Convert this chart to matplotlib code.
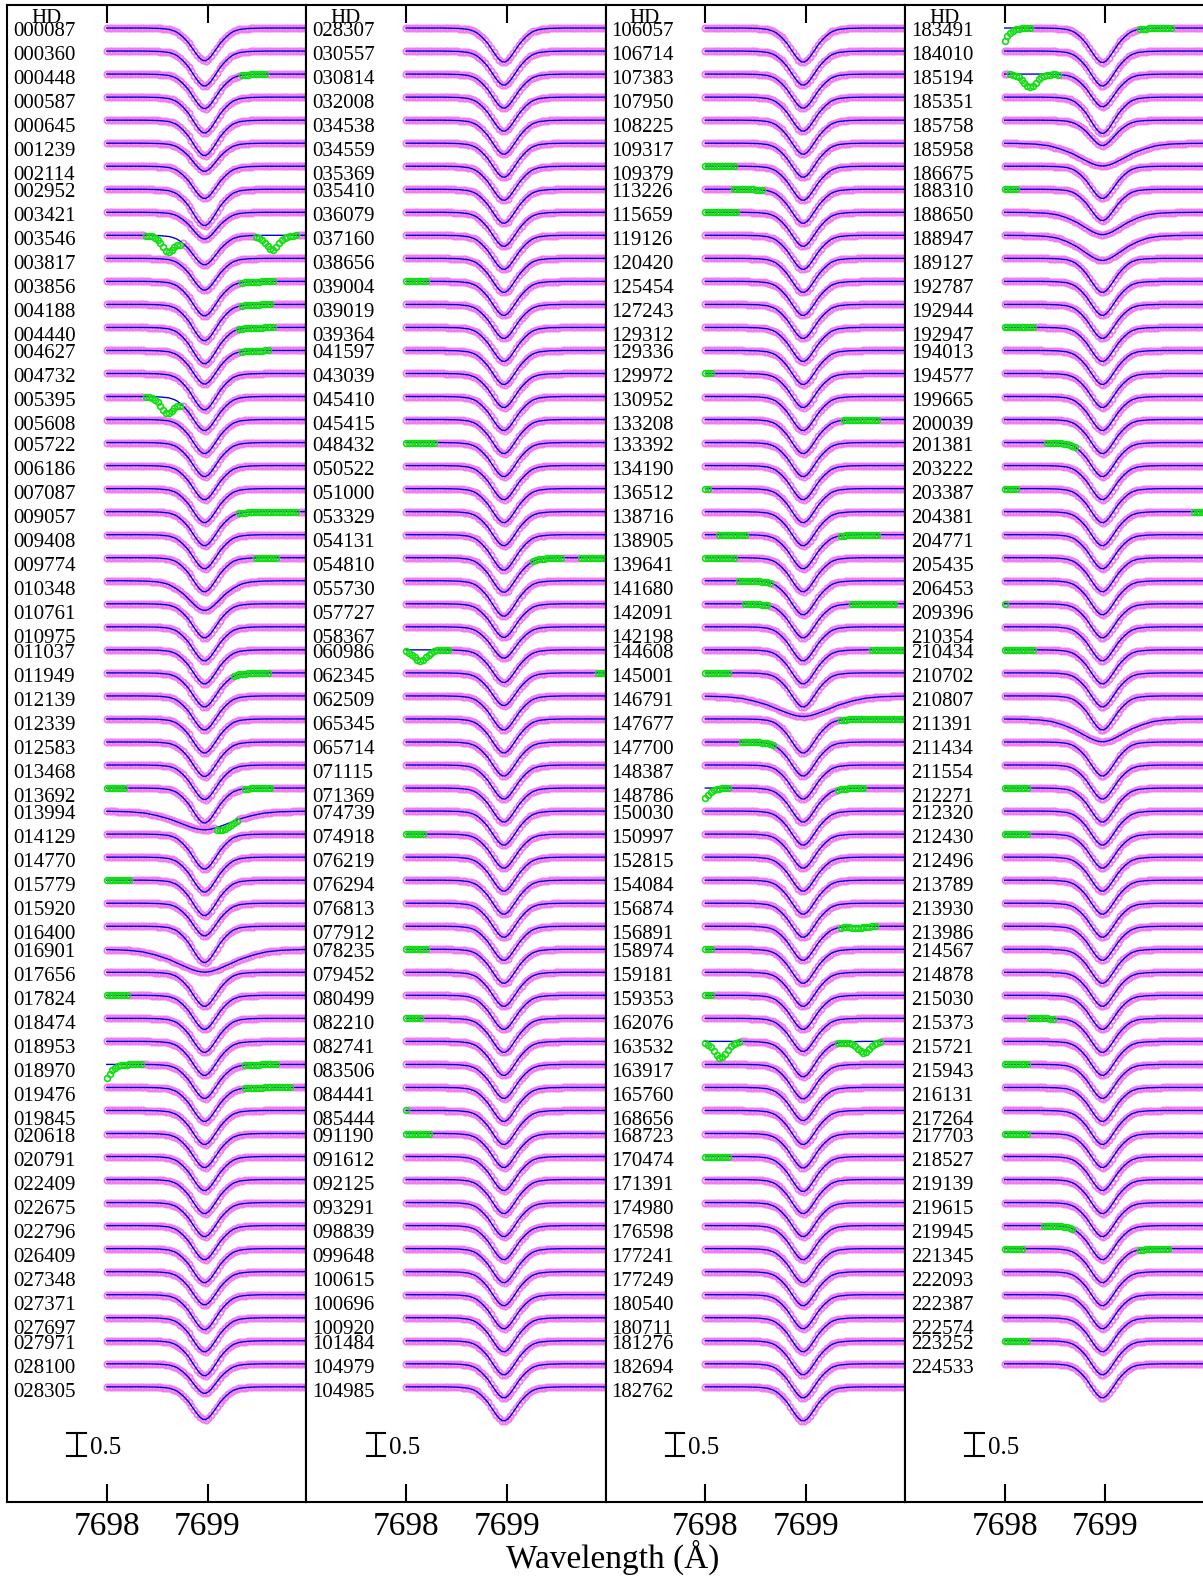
import numpy as np
import matplotlib.pyplot as plt

plt.rcParams['font.family'] = ['Liberation Serif', 'DejaVu Serif']

# K I 7699 absorption shape: fraction of the central depth vs. offset from line centre (A)
prof_dlam = [-0.60, -0.45, -0.35, -0.28, -0.22, -0.16, -0.11, -0.06, -0.03, 0.0,
             0.03, 0.06, 0.11, 0.16, 0.22, 0.28, 0.35, 0.45, 0.60]
prof_frac = [0.0, 0.01, 0.04, 0.11, 0.25, 0.44, 0.66, 0.87, 0.96, 1.0,
             0.96, 0.87, 0.66, 0.44, 0.25, 0.11, 0.04, 0.01, 0.0]
line_centre = 7698.97

stars_1 = ['000087', '000360', '000448', '000587', '000645', '001239', '002114', '002952',
           '003421', '003546', '003817', '003856', '004188', '004440', '004627', '004732',
           '005395', '005608', '005722', '006186', '007087', '009057', '009408', '009774',
           '010348', '010761', '010975', '011037', '011949', '012139', '012339', '012583',
           '013468', '013692', '013994', '014129', '014770', '015779', '015920', '016400',
           '016901', '017656', '017824', '018474', '018953', '018970', '019476', '019845',
           '020618', '020791', '022409', '022675', '022796', '026409', '027348', '027371',
           '027697', '027971', '028100', '028305']
depth_1 = [0.72, 0.77, 0.76, 0.79, 0.78, 0.62, 0.71, 0.80, 0.59, 0.65, 0.70, 0.76, 0.80, 0.80, 0.74, 0.80,
           0.75, 0.75, 0.75, 0.75, 0.75, 0.75, 0.75, 0.75, 0.65, 0.75, 0.75, 0.75, 0.75, 0.75, 0.75, 0.76,
           0.76, 0.77, 0.41, 0.77, 0.77, 0.78, 0.72, 0.80, 0.50, 0.75, 0.75, 0.75, 0.75, 0.75, 0.75, 0.75,
           0.75, 0.75, 0.75, 0.75, 0.75, 0.75, 0.73, 0.77, 0.75, 0.77, 0.65, 0.72]
width_1 = [1.0] * 24 + [1.3] + [1.0] * 9 + [2.1] + [1.0] * 5 + [2.2] + [1.0] * 19

stars_2 = ['028307', '030557', '030814', '032008', '034538', '034559', '035369', '035410',
           '036079', '037160', '038656', '039004', '039019', '039364', '041597', '043039',
           '045410', '045415', '048432', '050522', '051000', '053329', '054131', '054810',
           '055730', '057727', '058367', '060986', '062345', '062509', '065345', '065714',
           '071115', '071369', '074739', '074918', '076219', '076294', '076813', '077912',
           '078235', '079452', '080499', '082210', '082741', '083506', '084441', '085444',
           '091190', '091612', '092125', '093291', '098839', '099648', '100615', '100696',
           '100920', '101484', '104979', '104985']
depth_2 = [0.75] * 21 + [0.75, 0.78, 0.76, 0.78, 0.74, 0.69, 0.72, 0.72] + [0.75] * 31
width_2 = [1.0] * 60

stars_3 = ['106057', '106714', '107383', '107950', '108225', '109317', '109379', '113226',
           '115659', '119126', '120420', '125454', '127243', '129312', '129336', '129972',
           '130952', '133208', '133392', '134190', '136512', '138716', '138905', '139641',
           '141680', '142091', '142198', '144608', '145001', '146791', '147677', '147700',
           '148387', '148786', '150030', '150997', '152815', '154084', '156874', '156891',
           '158974', '159181', '159353', '162076', '163532', '163917', '165760', '168656',
           '168723', '170474', '171391', '174980', '176598', '177241', '177249', '180540',
           '180711', '181276', '182694', '182762']
depth_3 = [0.75] * 29 + [0.45] + [0.75] * 12 + [0.75, 0.73, 0.78, 0.76, 0.73, 0.75, 0.76, 0.77] + [0.75] * 10
width_3 = [1.0] * 29 + [2.2] + [1.0] * 30

stars_4 = ['183491', '184010', '185194', '185351', '185758', '185958', '186675', '188310',
           '188650', '188947', '189127', '192787', '192944', '192947', '194013', '194577',
           '199665', '200039', '201381', '203222', '203387', '204381', '204771', '205435',
           '206453', '209396', '210354', '210434', '210702', '210807', '211391', '211434',
           '211554', '212271', '212320', '212430', '212496', '213789', '213930', '213986',
           '214567', '214878', '215030', '215373', '215721', '215943', '216131', '217264',
           '217703', '218527', '219139', '219615', '219945', '221345', '222093', '222387',
           '222574', '223252', '224533']
depth_4 = [0.76, 0.77, 0.72, 0.80, 0.56, 0.50, 0.71, 0.69, 0.49, 0.55] + [0.75] * 20 + [0.50] + [0.75] * 28
width_4 = [1.0] * 5 + [1.9, 1.0, 1.0, 1.6, 1.6] + [1.0] * 20 + [1.8] + [1.0] * 28

# masked (telluric-affected) stretches: star, start, end
tell_star = ['000448', '003546', '003546', '003856', '004188', '004440', '004627', '005395',
             '009057', '009774', '011949', '013692', '013692', '013994', '015779', '017824',
             '018970', '018970', '019476',
             '039004', '048432', '054810', '054810', '060986', '062345', '074918', '078235',
             '082210', '085444', '091190',
             '109379', '113226', '115659', '129972', '133208', '136512', '138905', '138905',
             '139641', '141680', '142091', '142091', '144608', '145001', '147677', '147700',
             '148786', '148786', '156891', '158974', '159353', '163532', '163532', '170474',
             '183491', '183491', '185194', '188310', '192947', '201381', '203387', '204381',
             '209396', '210434', '212271', '212430', '215373', '215943', '217703', '219945',
             '221345', '221345', '223252']
tell_lo = [7699.34, 7698.39, 7699.46, 7699.32, 7699.32, 7699.29, 7699.32, 7698.39,
           7699.31, 7699.46, 7699.26, 7698.00, 7699.36, 7699.09, 7698.00, 7698.00,
           7698.00, 7699.36, 7699.35,
           7698.00, 7698.00, 7699.25, 7699.71, 7698.00, 7699.88, 7698.00, 7698.00,
           7698.00, 7698.00, 7698.00,
           7698.00, 7698.27, 7698.00, 7698.00, 7699.35, 7698.00, 7698.12, 7699.34,
           7698.00, 7698.31, 7698.37, 7699.43, 7699.65, 7698.00, 7699.34, 7698.34,
           7698.00, 7699.31, 7699.34, 7698.00, 7698.00, 7698.00, 7699.31, 7698.00,
           7698.00, 7699.32, 7698.03, 7697.97, 7698.00, 7698.42, 7698.00, 7699.87,
           7698.00, 7698.00, 7698.00, 7698.00, 7698.25, 7698.00, 7698.00, 7698.39,
           7698.00, 7699.32, 7698.00]
tell_hi = [7699.59, 7698.75, 7699.90, 7699.67, 7699.64, 7699.67, 7699.60, 7698.73,
           7699.89, 7699.68, 7699.60, 7698.19, 7699.65, 7699.29, 7698.23, 7698.22,
           7698.34, 7699.69, 7699.82,
           7698.22, 7698.28, 7699.56, 7699.98, 7698.44, 7699.98, 7698.18, 7698.22,
           7698.15, 7698.02, 7698.25,
           7698.28, 7698.56, 7698.32, 7698.08, 7699.73, 7698.05, 7698.41, 7699.73,
           7698.30, 7698.66, 7698.64, 7699.89, 7699.99, 7698.23, 7699.96, 7698.69,
           7698.24, 7699.57, 7699.69, 7698.06, 7698.06, 7698.35, 7699.76, 7698.24,
           7698.27, 7699.67, 7698.55, 7698.13, 7698.29, 7698.70, 7698.13, 7699.98,
           7698.01, 7698.30, 7698.25, 7698.25, 7698.50, 7698.25, 7698.24, 7698.69,
           7698.18, 7699.63, 7698.23]
# telluric dips inside some of those stretches: (star, stretch number) -> (centre, depth)
tell_dip = {('003546', 0): (7698.61, 0.34), ('003546', 1): (7699.64, 0.32),
            ('005395', 0): (7698.60, 0.35), ('013994', 0): (7699.17, 0.10),
            ('018970', 0): (7697.96, 0.38), ('060986', 0): (7698.14, 0.25),
            ('148786', 0): (7697.96, 0.28), ('156891', 0): (7699.50, 0.04),
            ('163532', 0): (7698.15, 0.36), ('163532', 1): (7699.57, 0.25),
            ('183491', 0): (7697.95, 0.40), ('185194', 0): (7698.25, 0.29)}

label_resets = [0, 7, 14, 18, 27, 34, 40, 48, 57]

panels = [(stars_1, depth_1, width_1), (stars_2, depth_2, width_2),
          (stars_3, depth_3, width_3), (stars_4, depth_4, width_4)]

wave = np.arange(7698.0, 7700.06, 0.028)
dl = np.array(prof_dlam)

fig = plt.figure(figsize=(12.03, 15.78), dpi=100)
for k, (stars, depth, width) in enumerate(panels):
    ax = fig.add_axes([(7 + k * 299.3) / 1203, 1 - 1502 / 1578, 299.3 / 1203, 1497 / 1578])
    group = 0
    for i, name in enumerate(stars):
        shift = 0.5 * i
        fit = 1 - depth[i] * np.interp(wave - line_centre, dl * width[i], prof_frac)
        obs = fit.copy()
        mask = np.zeros(wave.size, bool)
        n = 0
        for s, lo, hi in zip(tell_star, tell_lo, tell_hi):
            if s != name:
                continue
            m = (wave >= lo - 1e-6) & (wave <= hi + 1e-6)
            mask |= m
            if (s, n) in tell_dip:
                c, d = tell_dip[(s, n)]
                obs[m] -= d * np.interp(wave[m] - c, dl * 0.5, prof_frac)
            n += 1
        ax.plot(wave[~mask], obs[~mask] - shift, 'o', ms=4.5, mfc='none',
                mec='#f07cf0', mew=1.3, zorder=1)
        ax.plot(wave, fit - shift, color='#0000dd', lw=1.0, zorder=2)
        ax.plot(wave[mask], obs[mask] - shift, 'o', ms=4.2, mfc='none',
                mec='#11dd11', mew=1.2, zorder=3)
        if i in label_resets:
            group = i
        dy = (1 + (i - group) * 0.98) / 46.04
        ax.text(7697.07, 1 - shift - dy, name, fontsize=15, ha='left', va='center_baseline')

    ax.text(7697.40, 1.26, 'HD', fontsize=15, ha='center', va='center_baseline')
    # 0.5 flux scale bar
    ax.plot([7697.70, 7697.70], [-29.5, -30.0], color='black', lw=1.5)
    ax.plot([7697.61, 7697.79], [-29.5, -29.5], color='black', lw=1.5)
    ax.plot([7697.61, 7697.79], [-30.0, -30.0], color='black', lw=1.5)
    ax.text(7697.83, -29.78, '0.5', fontsize=18, ha='left', va='center_baseline')

    ax.set_xlim(7697.01, 7699.98)
    ax.set_ylim(-31.0, 1.5)
    ax.set_yticks([])
    ax.set_xticks([7698, 7699])
    ax.tick_params(axis='x', direction='in', length=13, width=1.5, top=True,
                   bottom=True, labelsize=24, pad=7)
    for sp in ax.spines.values():
        sp.set_linewidth(1.5)

fig.text(613 / 1203, 1 - 1557 / 1578, 'Wavelength (Å)', fontsize=24, ha='center', va='center')
fig.savefig('out.png', dpi=100)
